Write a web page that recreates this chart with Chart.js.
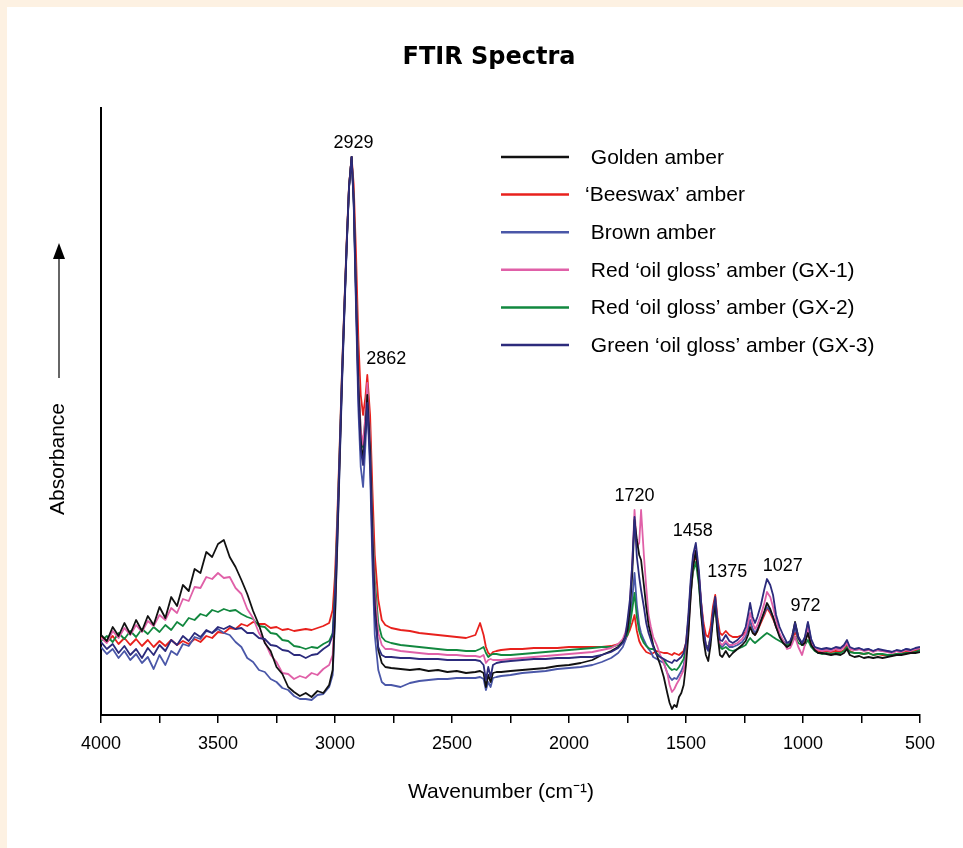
<!DOCTYPE html>
<html>
<head>
<meta charset="utf-8">
<title>FTIR Spectra</title>
<script src="https://cdn.jsdelivr.net/npm/chart.js@4.4.0/dist/chart.umd.min.js"></script>
<style>
  html, body { margin: 0; padding: 0; background: #fdf1e2; }
  #panel { position: absolute; left: 7px; top: 7px; width: 956px; height: 841px; background: #fff; }
  canvas { display: block; }
</style>
</head>
<body>
<div id="panel"><canvas id="canvas" width="956" height="841"></canvas></div>
<script>
// wavenumbers (cm-1), shared by all six spectra
const wavenumbers = [
  4000,3975,3950,3925,3900,3875,3850,3825,3800,3775,3750,3725,3700,3675,3650,3625,3600,3575,3550,3525,
  3500,3475,3450,3425,3400,3375,3350,3325,3300,3275,3250,3225,3200,3175,3150,3125,3100,3075,3050,3025,
  3010,3000,2990,2980,2970,2960,2950,2940,2929,2920,2910,2900,2890,2880,2870,2862,2850,2840,2830,2815,2800,2785,
  2760,2720,2680,2640,2600,2560,2520,2480,2440,2400,2380,2365,2355,2345,2335,2325,2310,2290,2250,2200,
  2150,2100,2050,2000,1950,1900,1860,1820,1790,1770,1760,
  1750,1740,1730,1720,1710,1700,1692,1680,1670,1660,1650,1640,1625,1610,1595,1580,1570,1560,1550,1540,
  1530,1520,1510,1500,1490,1480,1470,1458,1445,1435,1425,1415,1405,1395,1385,1375,1365,1355,1345,1330,
  1315,1300,1280,1260,1245,1235,1226,1215,1205,1195,1180,1165,1154,1140,1128,1115,1100,1085,1068,1055,
  1045,1034,1020,1004,992,979,965,950,935,920,900,
  880,860,840,825,812,800,780,760,740,720,700,680,660,640,620,600,580,560,540,520,500
];

// absorbance, arbitrary units
const golden = [
  80,74,88,79,92,81,95,84,99,90,108,97,118,109,130,124,146,142,163,158,
  171,175,158,148,135,121,104,90,72,64,48,41,28,23,19,22,18,24,22,30,
  45,100,175,255,335,405,470,528,558,515,420,330,275,255,285,320,265,180,110,65,52,48,
  47,46,45,46,44,45,43,44,42,43,44,42,28,40,33,42,43,43,44,45,
  46,47,49,50,52,55,60,64,68,73,78,
  85,105,140,195,175,160,155,130,108,90,80,70,60,50,38,22,12,6,10,8,
  18,22,30,50,80,118,148,164,135,100,75,60,54,70,95,112,80,60,58,64,
  58,62,66,70,74,80,88,82,80,84,94,104,112,106,98,88,78,72,68,70,
  80,93,78,70,72,82,70,65,62,62,61,
  60,61,60,62,66,60,58,59,57,58,57,58,57,58,59,60,60,61,62,62,63
];
const beeswax = [
  78,73,79,71,77,70,76,69,75,68,74,69,75,70,74,71,76,73,79,77,
  83,82,87,86,91,89,93,91,91,87,88,85,86,84,85,86,85,87,89,92,
  105,140,200,270,345,410,475,530,558,530,460,375,320,300,318,340,300,225,160,115,95,90,
  87,85,84,82,81,80,79,78,77,80,92,80,68,62,60,63,64,65,66,66,
  67,67,67,68,68,68,68,69,71,73,75,
  80,85,92,100,84,74,70,66,63,62,61,62,64,63,62,62,61,60,62,61,
  60,62,64,72,95,128,150,160,138,112,92,80,78,88,108,120,96,82,80,84,
  80,78,78,80,83,88,92,86,80,84,92,100,107,102,96,88,80,74,70,72,
  76,83,76,72,74,82,70,66,64,63,64,
  63,64,63,65,70,64,62,62,61,62,60,61,60,60,60,61,62,63,63,64,66
];
const brown = [
  68,61,66,57,64,55,61,52,58,46,60,50,64,60,71,69,78,76,84,82,
  86,82,80,73,68,57,53,45,43,36,33,27,25,19,16,16,15,20,21,28,
  40,95,170,250,330,400,468,527,558,510,405,305,248,228,270,310,245,150,80,45,33,30,
  30,28,32,34,35,36,36,37,37,37,38,36,25,33,28,37,38,39,40,42,
  43,44,46,47,48,50,53,57,62,68,74,
  82,95,115,142,110,90,82,75,70,66,63,58,56,54,52,42,38,35,37,36,
  40,44,50,62,92,130,156,167,140,108,82,68,64,76,100,115,88,70,68,72,
  68,68,70,73,78,86,95,86,82,86,94,102,108,104,98,88,80,74,70,72,
  78,87,76,72,76,92,74,68,66,66,66,
  65,67,66,68,73,67,65,66,65,66,64,65,64,64,63,64,64,66,65,66,67
];
const gx1 = [
  77,72,84,77,87,80,90,83,94,89,100,95,107,102,116,114,128,127,138,136,
  142,137,138,127,121,106,97,82,73,60,53,42,41,36,39,37,42,40,46,50,
  60,110,185,262,340,408,472,529,558,518,425,335,285,270,300,332,275,190,125,82,70,66,
  66,64,63,62,61,61,60,60,59,59,58,60,52,55,56,55,55,55,56,57,
  58,59,60,61,62,63,65,67,71,76,82,
  90,110,150,205,168,172,205,160,128,100,88,78,70,60,52,42,30,23,26,31,
  35,40,45,58,85,120,150,166,140,110,85,70,66,78,100,116,90,72,70,74,
  70,70,72,76,82,92,102,92,86,90,100,112,123,118,108,95,82,74,66,67,
  72,78,68,60,70,88,72,66,65,64,65,
  64,66,65,68,72,66,65,66,64,65,63,65,64,63,62,64,63,65,64,66,67
];
const gx2 = [
  74,79,73,82,76,84,78,86,81,88,83,90,85,93,89,97,95,101,99,105,
  103,106,104,105,101,98,96,89,88,82,81,75,74,69,68,66,68,67,71,74,
  82,125,192,266,342,408,472,529,558,518,425,335,283,268,298,328,275,195,135,92,78,74,
  72,70,69,68,67,66,65,65,64,64,66,68,62,58,60,61,61,60,60,61,
  62,63,64,65,66,67,68,68,70,74,78,
  80,90,105,122,98,84,78,72,69,67,66,66,62,58,55,50,47,45,46,45,
  48,52,56,66,90,122,143,153,130,102,82,70,68,78,96,110,84,68,66,68,
  65,64,66,68,70,74,77,74,72,74,77,80,82,80,78,76,74,72,70,71,
  74,78,72,70,70,75,68,64,62,61,62,
  61,62,62,64,68,63,62,62,61,62,60,61,61,60,60,61,61,62,62,63,65
];
const gx3 = [
  73,66,71,62,69,60,66,57,67,60,70,64,75,70,79,74,82,78,85,82,
  88,86,89,86,87,82,82,77,76,70,69,65,64,60,60,57,60,61,66,70,
  80,120,188,262,338,406,470,528,558,512,412,318,265,250,282,312,255,165,100,68,60,58,
  58,57,57,56,56,56,55,55,55,55,54,50,35,48,38,50,52,53,54,55,
  56,56,57,57,58,58,60,63,67,72,78,
  95,115,150,198,158,138,125,108,92,82,75,68,60,58,56,54,53,52,55,54,
  56,58,62,72,100,135,160,172,145,112,85,70,65,78,102,118,92,75,74,80,
  74,72,75,80,88,100,112,98,92,98,110,126,136,130,120,100,88,80,72,74,
  80,92,78,72,78,93,76,68,67,66,67,
  66,68,67,70,75,68,66,67,65,66,64,66,65,64,63,65,64,66,65,67,68
];

const seriesLabels = [' Golden amber', '‘Beeswax’ amber', ' Brown amber',
  ' Red ‘oil gloss’ amber (GX-1)', ' Red ‘oil gloss’ amber (GX-2)', ' Green ‘oil gloss’ amber (GX-3)'];
const seriesColors = ['#111111', '#e8211d', '#4a57a8', '#e060a8', '#12883f', '#2c2b7c'];
const seriesValues = [golden, beeswax, brown, gx1, gx2, gx3];
const drawOrder = [1, 5, 4, 2, 3, 0];

// marked peaks (cm-1)
const peakLabels = [2929, 2862, 1720, 1458, 1375, 1027, 972];

const FONT = '"Liberation Sans", Arial, sans-serif';

// where each peak label sits relative to the tallest curve at that peak (px)
const labelShift = { 2929: [2, -14], 2862: [19, -16], 1720: [0, -14], 1458: [-3, -12], 1375: [12, -23], 1027: [-14, -56], 972: [-4, -16] };

const extras = {
  id: 'extras',
  afterDraw(chart) {
    const { ctx, chartArea, scales: { x, y } } = chart;
    ctx.save();
    ctx.fillStyle = '#000';
    ctx.textAlign = 'center';
    ctx.textBaseline = 'middle';

    // title
    ctx.font = 'bold 24px "DejaVu Sans", sans-serif';
    ctx.fillText('FTIR Spectra', chartArea.left + 388, chartArea.top - 50);

    // x axis title
    ctx.font = '21px ' + FONT;
    ctx.fillText('Wavenumber (cm⁻¹)', chartArea.left + 400, chartArea.bottom + 77);

    // peak numbers
    ctx.font = '18px ' + FONT;
    peakLabels.forEach(wn => {
      let j = 0;
      wavenumbers.forEach((w, k) => { if (Math.abs(w - wn) < Math.abs(wavenumbers[j] - wn)) j = k; });
      const top = Math.max(...seriesValues.map(s => s[j]));
      const d = labelShift[wn];
      ctx.fillText(String(wn), x.getPixelForValue(wn) + d[0], y.getPixelForValue(top) + d[1]);
    });

    // legend
    ctx.textAlign = 'left';
    ctx.font = '21px ' + FONT;
    seriesLabels.forEach((t, i) => {
      const ly = chartArea.top + 49 + i * 37.6;
      ctx.strokeStyle = seriesColors[i];
      ctx.lineWidth = 2.5;
      ctx.beginPath();
      ctx.moveTo(chartArea.left + 400, ly);
      ctx.lineTo(chartArea.left + 468, ly);
      ctx.stroke();
      ctx.fillText(t, chartArea.left + 484, ly + 1);
    });

    // y axis title with arrow
    const ax = chartArea.left - 42;
    ctx.strokeStyle = '#333';
    ctx.lineWidth = 1.5;
    ctx.beginPath();
    ctx.moveTo(ax, chartArea.top + 270);
    ctx.lineTo(ax, chartArea.top + 148);
    ctx.stroke();
    ctx.fillStyle = '#000';
    ctx.beginPath();
    ctx.moveTo(ax, chartArea.top + 135);
    ctx.lineTo(ax - 6, chartArea.top + 151);
    ctx.lineTo(ax + 6, chartArea.top + 151);
    ctx.closePath();
    ctx.fill();
    ctx.translate(chartArea.left - 43, chartArea.top + 351);
    ctx.rotate(-Math.PI / 2);
    ctx.textAlign = 'center';
    ctx.font = '21px ' + FONT;
    ctx.fillText('Absorbance', 0, 0);
    ctx.restore();
  }
};

const ctx = document.getElementById('canvas');
new Chart(ctx, {
  type: 'line',
  data: {
    datasets: seriesLabels.map((label, i) => ({
      label: label.trim(),
      data: wavenumbers.map((w, j) => ({ x: w, y: seriesValues[i][j] })),
      borderColor: seriesColors[i],
      borderWidth: 1.8,
      borderJoinStyle: 'round',
      pointRadius: 0,
      fill: false,
      tension: 0,
      order: drawOrder[i]
    }))
  },
  options: {
    responsive: false,
    animation: false,
    layout: { padding: { left: 0, right: 43, top: 101, bottom: 0 } },
    plugins: {
      legend: { display: false },
      tooltip: { enabled: false },
      title: { display: false }
    },
    scales: {
      x: {
        type: 'linear',
        reverse: true,
        min: 500,
        max: 4000,
        afterFit: s => { s.height = 133; },
        ticks: {
          stepSize: 250,
          autoSkip: false,
          maxRotation: 0,
          padding: 10,
          color: '#000',
          font: { family: FONT, size: 18 },
          callback: v => (v % 500 === 0 ? String(v) : '')
        },
        grid: { drawOnChartArea: false, drawTicks: true, tickLength: 8, color: '#000', lineWidth: 1.5 },
        border: { color: '#000', width: 2 }
      },
      y: {
        min: 0,
        max: 607,
        afterFit: s => { s.width = 94; },
        ticks: { display: false },
        grid: { display: false },
        border: { color: '#000', width: 2 }
      }
    }
  },
  plugins: [extras]
});
</script>
</body>
</html>
